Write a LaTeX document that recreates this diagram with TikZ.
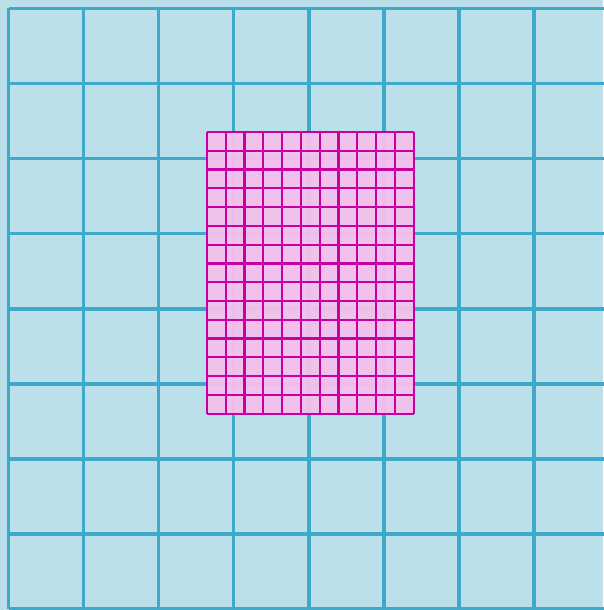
\documentclass[tikz,border=0pt]{standalone}
\definecolor{gridblue}{HTML}{3EA9CA}
\definecolor{cellblue}{HTML}{BCE0EA}
\definecolor{finepink}{HTML}{C800A4}
\definecolor{cellpink}{HTML}{F4C0EC}
\begin{document}
\begin{tikzpicture}[x=1pt,y=-1pt]
  \useasboundingbox (0,0) rectangle (603,610);
  \fill[cellblue] (0,0) rectangle (603,610);
  % coarse grid
  \foreach \k in {0,...,8} {
    \draw[gridblue,line width=3.6pt] (8.5+75.05*\k,8.5) -- (8.5+75.05*\k,608.9);
    \draw[gridblue,line width=3.6pt] (8.5,8.5+75.05*\k) -- (620,8.5+75.05*\k);
  }
  % fine grid
  \fill[cellpink,fill opacity=0.94] (207,132) rectangle (413.7,413.7);
  \foreach \i in {0,...,11}
    \draw[finepink,line width=2.2pt] (207+18.79*\i,132) -- (207+18.79*\i,413.7);
  \foreach \j in {0,...,15}
    \draw[finepink,line width=2.2pt] (207,132+18.78*\j) -- (413.7,132+18.78*\j);
\end{tikzpicture}
\end{document}
